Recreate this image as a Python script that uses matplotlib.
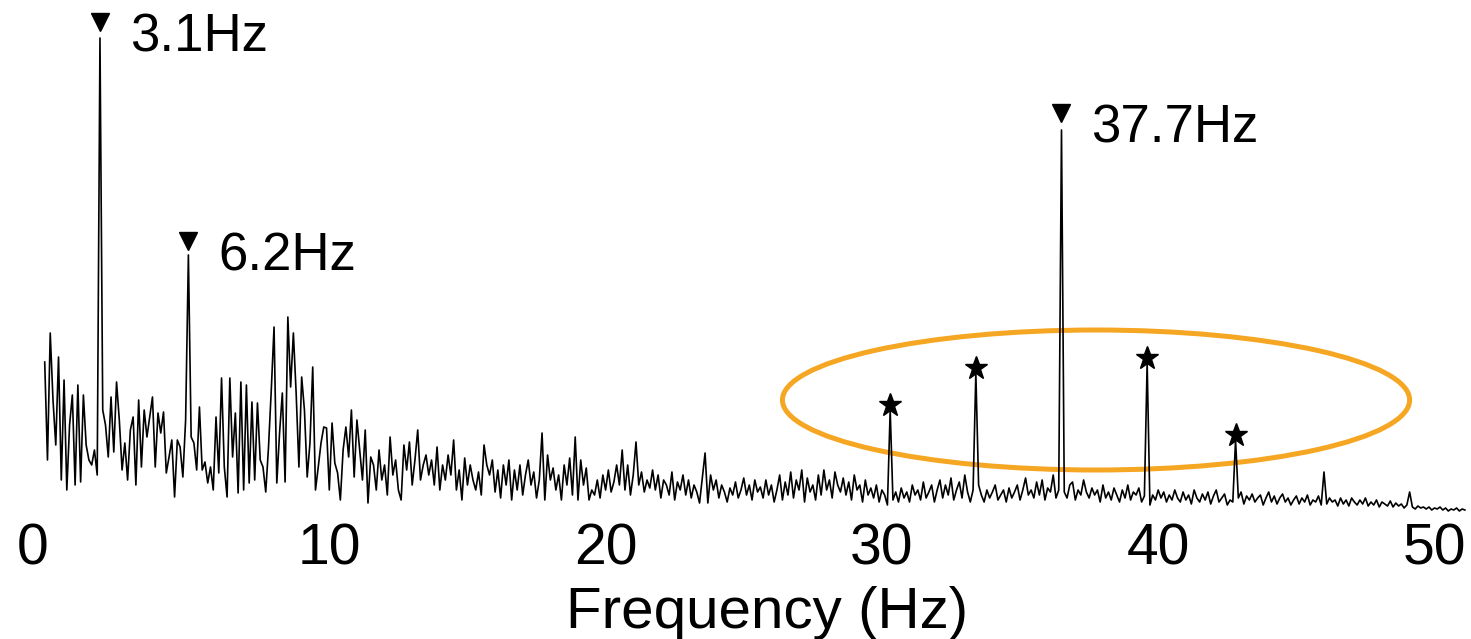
import numpy as np
import matplotlib
matplotlib.use("Agg")
import matplotlib.pyplot as plt
from matplotlib.patches import Ellipse
from matplotlib.transforms import ScaledTranslation

plt.rcParams['font.family'] = ['Liberation Sans', 'DejaVu Sans']

# ---- data -------------------------------------------------------------
freq_start = -0.3   # Hz (first bin)
freq_step = 0.1     # Hz per bin

# spectrum amplitude (arbitrary units), one row = 1 Hz
amplitude = [
    158, 60, 187, 120, 75, 163, 40, 140, 30, 95,
    125, 35, 135, 38, 125, 75, 60, 55, 70, 45,
    482, 110, 95, 63, 123, 68, 138, 100, 50, 77,
    40, 90, 103, 35, 120, 53, 110, 83, 103, 123,
    53, 107, 87, 108, 47, 63, 80, 23, 80, 73,
    43, 100, 265, 83, 77, 50, 113, 50, 58, 37,
    53, 30, 103, 47, 142, 53, 23, 142, 63, 107,
    27, 138, 30, 135, 37, 118, 40, 117, 60, 53,
    28, 73, 130, 193, 37, 87, 127, 38, 203, 133,
    187, 127, 53, 143, 110, 43, 77, 153, 30, 53,
    77, 93, 92, 30, 97, 57, 47, 20, 70, 93,
    63, 110, 43, 100, 70, 40, 90, 17, 63, 55,
    30, 70, 40, 55, 25, 83, 45, 60, 30, 20,
    75, 50, 78, 35, 60, 90, 40, 55, 65, 45,
    60, 35, 73, 30, 55, 40, 65, 45, 80, 30,
    50, 20, 62, 35, 55, 40, 30, 48, 25, 75,
    55, 45, 60, 28, 50, 22, 55, 35, 60, 20,
    50, 30, 55, 25, 45, 60, 35, 48, 22, 40,
    87, 20, 65, 40, 52, 30, 45, 20, 55, 35,
    62, 25, 83, 20, 60, 35, 52, 20, 30, 25,
    40, 22, 45, 30, 50, 28, 38, 55, 35, 70,
    30, 55, 25, 45, 78, 35, 48, 28, 40, 32,
    50, 30, 45, 22, 40, 35, 25, 48, 20, 38,
    30, 45, 25, 40, 22, 35, 28, 17, 42, 67,
    17, 45, 30, 40, 22, 35, 28, 18, 32, 25,
    38, 22, 30, 42, 25, 35, 20, 40, 28, 33,
    22, 40, 25, 35, 18, 30, 45, 20, 38, 25,
    48, 22, 40, 30, 50, 18, 42, 28, 35, 20,
    45, 25, 50, 30, 40, 22, 48, 35, 28, 42,
    25, 38, 20, 45, 30, 35, 18, 40, 25, 32,
    22, 35, 18, 30, 25, 15, 110, 20, 28, 18,
    32, 22, 28, 18, 35, 25, 30, 20, 38, 22,
    28, 35, 18, 30, 40, 22, 35, 25, 42, 20,
    30, 38, 22, 45, 28, 18, 30, 147, 35, 25,
    18, 30, 22, 28, 35, 20, 25, 30, 18, 32,
    22, 28, 35, 20, 30, 42, 25, 30, 22, 38,
    25, 40, 20, 32, 28, 45, 22, 30, 390, 28,
    22, 35, 38, 20, 30, 25, 40, 28, 22, 32,
    25, 30, 18, 35, 22, 28, 20, 32, 25, 18,
    30, 22, 35, 20, 28, 25, 32, 18, 24, 157,
    15, 25, 20, 30, 22, 28, 18, 25, 20, 30,
    22, 18, 28, 20, 25, 16, 30, 22, 18, 26,
    20, 28, 16, 24, 30, 18, 22, 26, 15, 20,
    18, 80, 22, 28, 16, 24, 20, 26, 18, 22,
    25, 15, 22, 28, 18, 24, 16, 22, 26, 18,
    22, 15, 20, 24, 16, 22, 18, 25, 15, 20,
    18, 24, 15, 48, 16, 22, 18, 20, 14, 22,
    16, 20, 14, 22, 18, 15, 20, 16, 22, 14,
    18, 15, 20, 13, 18, 16, 14, 19, 13, 17,
    14, 16, 12, 15, 28, 13, 11, 14, 12, 13,
    11, 13, 10, 12, 11, 13, 10, 12, 9, 11,
    10, 12, 9, 11, 10,
]

# labelled main peaks (triangles)
main_peak_freqs = [1.7, 4.9, 36.5]
main_peak_marker_y = [498, 279, 407]
main_peak_labels = ["3.1Hz", "6.2Hz", "37.7Hz"]

# secondary peaks (stars)
star_freqs = [30.3, 33.4, 39.6, 42.8]
star_marker_y = [115, 152, 162, 85]

tick_values = [0, 10, 20, 30, 40, 50]
tick_labels = ["0", "10", "20", "30", "40", "50"]

# highlighted region (ellipse)
ellipse_center = (37.75, 120)
ellipse_size = (22.7, 140)

# ---- plot -------------------------------------------------------------
freqs = freq_start + freq_step * np.arange(len(amplitude))

fig = plt.figure(figsize=(14.71, 6.39), dpi=100)
ax = fig.add_axes([0, 119 / 639, 1, 520 / 639])
ax.set_xlim(-53 / 27.63, (1471 - 53) / 27.63)
ax.set_ylim(0, 520)

ax.plot(freqs, amplitude, color='black', lw=1.2, zorder=2)

ax.plot(main_peak_freqs, main_peak_marker_y, linestyle='none', marker='v',
        color='black', markersize=13, zorder=3)
for f, y, lab in zip(main_peak_freqs, main_peak_marker_y, main_peak_labels):
    ax.annotate(lab, xy=(f, y), xytext=(21.5, -21.5), textcoords='offset points',
                ha='left', va='baseline', fontsize=38, color='black')

ax.plot(star_freqs, star_marker_y, linestyle='none', marker='*',
        color='black', markersize=17, zorder=3)

ax.add_patch(Ellipse(ellipse_center, ellipse_size[0], ellipse_size[1],
                     fill=False, edgecolor='#F5A623', lw=3.6, zorder=1))

for s in ax.spines.values():
    s.set_visible(False)
ax.set_yticks([])
ax.set_xticks(tick_values)
ax.set_xticklabels(tick_labels)
ax.tick_params(axis='x', length=0, pad=2, labelsize=41)
# the "0" label sits slightly left of the axis origin in the reference
lbl0 = ax.get_xticklabels()[0]
lbl0.set_transform(lbl0.get_transform() + ScaledTranslation(-0.2, 0, fig.dpi_scale_trans))

ax.set_xlabel("Frequency (Hz)", fontsize=42, va='baseline')
ax.xaxis.set_label_coords(767 / 1471, -(628 - 520) / 520)

fig.savefig("out.png", dpi=100)
